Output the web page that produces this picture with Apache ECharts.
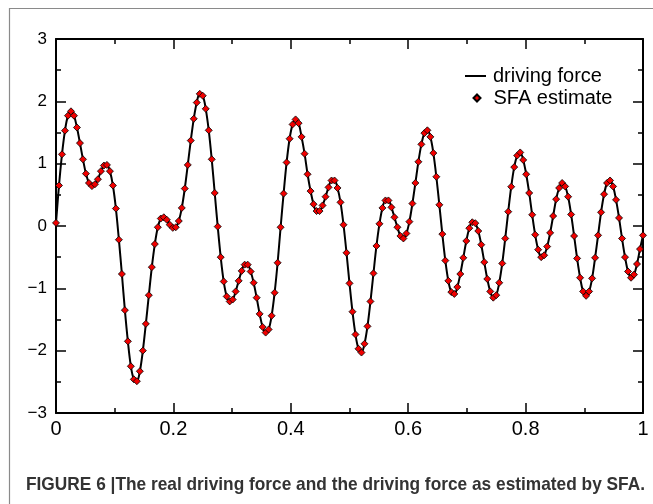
<!DOCTYPE html>
<html>
<head>
<meta charset="utf-8">
<script src="https://cdn.jsdelivr.net/npm/echarts@6/dist/echarts.min.js"></script>
<style>
html,body{margin:0;padding:0;background:#fff;}
#chart{width:653px;height:504px;}
</style>
</head>
<body>
<div id="chart"></div>
<script>
const forceValues = [
  0.05, 0.65, 1.15, 1.53, 1.77, 1.84, 1.77, 1.58, 1.33, 1.07,
  0.84, 0.69, 0.64, 0.67, 0.75, 0.88, 0.97, 0.98, 0.88, 0.65,
  0.28, -0.22, -0.77, -1.35, -1.85, -2.25, -2.46, -2.49, -2.33, -2.00,
  -1.57, -1.11, -0.66, -0.29, -0.02, 0.12, 0.14, 0.10, 0.02, -0.03,
  -0.02, 0.08, 0.29, 0.60, 0.98, 1.37, 1.72, 1.98, 2.12, 2.09,
  1.88, 1.535, 1.07, 0.53, -0.01, -0.50, -0.89, -1.13, -1.21, -1.18,
  -1.05, -0.88, -0.72, -0.62, -0.62, -0.73, -0.91, -1.15, -1.41, -1.62,
  -1.71, -1.66, -1.44, -1.07, -0.59, -0.02, 0.52, 1.02, 1.40, 1.63,
  1.71, 1.65, 1.43, 1.16, 0.83, 0.56, 0.35, 0.24, 0.24, 0.33,
  0.47, 0.62, 0.73, 0.73, 0.61, 0.38, 0.02, -0.43, -0.92, -1.375,
  -1.74, -1.97, -2.03, -1.89, -1.61, -1.21, -0.76, -0.32, 0.035, 0.29,
  0.41, 0.41, 0.30, 0.14, -0.02, -0.16, -0.20, -0.12, 0.07, 0.36,
  0.69, 1.03, 1.31, 1.49, 1.535, 1.43, 1.17, 0.79, 0.34, -0.13,
  -0.555, -0.88, -1.06, -1.09, -0.98, -0.77, -0.51, -0.24, -0.035, 0.06,
  0.045, -0.08, -0.30, -0.58, -0.85, -1.05, -1.15, -1.11, -0.91, -0.60,
  -0.20, 0.23, 0.63, 0.945, 1.13, 1.18, 1.06, 0.83, 0.53, 0.18,
  -0.14, -0.38, -0.50, -0.47, -0.33, -0.11, 0.16, 0.43, 0.61, 0.69,
  0.635, 0.47, 0.185, -0.16, -0.52, -0.83, -1.05, -1.12, -1.05, -0.84,
  -0.51, -0.15, 0.22, 0.51, 0.69, 0.73, 0.635, 0.42, 0.13, -0.20,
  -0.50, -0.73, -0.83, -0.78, -0.61, -0.37, -0.15
];
const estimateValues = forceValues.slice();
const xStart = 0, xEnd = 1;
const xTicks = ['0', '0.2', '0.4', '0.6', '0.8', '1'];
const yTicks = ['\u22123', '\u22122', '\u22121', '0', '1', '2', '3'];
const seriesNames = ['driving force', 'SFA estimate'];
const caption = 'FIGURE 6 |The real driving force and the driving force as estimated by SFA.';

function toPairs(vals) {
  const n = vals.length;
  return vals.map((v, i) => [xStart + (xEnd - xStart) * i / (n - 1), v]);
}

const chart = echarts.init(document.getElementById('chart'), null, {renderer: 'canvas'});

// caption condensed to its width in the figure
const capFont = 'bold 18.5px "Liberation Sans", Arial, sans-serif';
const cv = document.createElement('canvas').getContext('2d');
cv.font = capFont;
const capW = cv.measureText(caption).width;
const capScale = 619 / capW;

const axisLineStyle = {color: '#000', width: 2};
const tickStyle = {color: '#000', width: 1.5};
const fontFam = '"Liberation Sans", Arial, Helvetica, sans-serif';

function axisBase(extra) {
  return Object.assign({
    type: 'value',
    axisLine: {onZero: false, lineStyle: axisLineStyle},
    axisTick: {inside: true, length: 10, lineStyle: tickStyle},
    minorTick: {show: true, splitNumber: 2, length: 5, lineStyle: tickStyle},
    splitLine: {show: false}
  }, extra);
}

chart.setOption({
  animation: false,
  backgroundColor: '#fff',
  grid: {left: 56, right: 10, top: 39, bottom: 91, containLabel: false},
  legend: [{
    orient: 'vertical', left: 465, top: 66, padding: 0, itemWidth: 21, itemHeight: 2,
    textStyle: {fontSize: 20, fontFamily: fontFam, color: '#000', padding: [0, 0, 0, 2]},
    data: [{name: seriesNames[0], icon: 'rect'}]
  }, {
    orient: 'vertical', left: 472.5, top: 88, padding: 0, itemWidth: 7, itemHeight: 7,
    textStyle: {fontSize: 20, fontFamily: fontFam, color: '#000', padding: [0, 0, 0, 8]},
    data: [{name: seriesNames[1], icon: 'diamond'}]
  }],
  xAxis: [axisBase({
    position: 'bottom', min: 0, max: 1, interval: 0.2,
    axisLabel: {fontSize: 20, fontFamily: fontFam, color: '#000', margin: 6,
      formatter: (v) => xTicks[Math.round(v / 0.2)]}
  }), axisBase({
    position: 'top', min: 0, max: 1, interval: 0.2, axisLabel: {show: false}
  })],
  yAxis: [axisBase({
    position: 'left', min: -3, max: 3, interval: 1,
    axisLabel: {fontSize: 17, fontFamily: fontFam, color: '#000', margin: 9,
      formatter: (v) => yTicks[Math.round(v) + 3]}
  }), axisBase({
    position: 'right', min: -3, max: 3, interval: 1, axisLabel: {show: false}
  })],
  series: [{
    name: seriesNames[0], type: 'line', xAxisIndex: 0, yAxisIndex: 0,
    data: toPairs(forceValues), symbol: 'none', smooth: 0.35,
    lineStyle: {color: '#000', width: 2}, itemStyle: {color: '#000'}, z: 2
  }, {
    name: seriesNames[1], type: 'scatter', xAxisIndex: 0, yAxisIndex: 0,
    data: toPairs(estimateValues), symbol: 'diamond', symbolSize: 7,
    itemStyle: {color: '#f00000', borderColor: '#000', borderWidth: 0.8, opacity: 1}, z: 3
  }],
  graphic: [{
    type: 'rect', shape: {x: 9.5, y: 8.5, width: 700, height: 600}, silent: true,
    style: {fill: 'none', stroke: '#8a8a8a', lineWidth: 1.2}
  }, {
    type: 'text', x: 26, y: 485, scaleX: capScale, silent: true,
    style: {text: caption, font: capFont, fill: '#333', verticalAlign: 'middle', align: 'left'}
  }]
});
</script>
</body>
</html>
